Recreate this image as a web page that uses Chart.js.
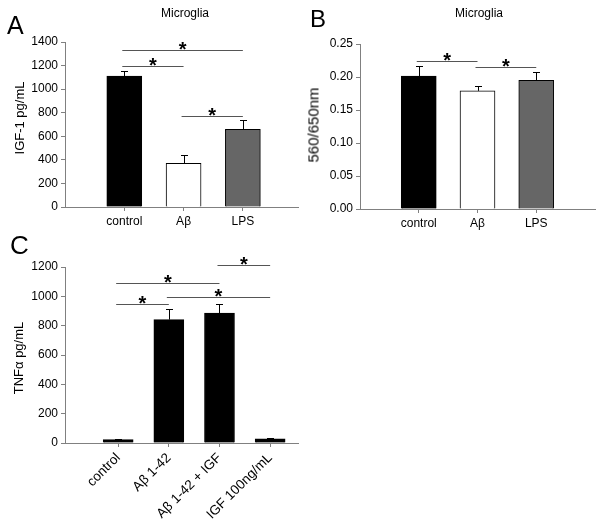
<!DOCTYPE html>
<html>
<head>
<meta charset="utf-8">
<script src="https://cdn.jsdelivr.net/npm/chart.js@4.4.1/dist/chart.umd.min.js"></script>
<style>
  body { margin: 0; background: #fff; font-family: Arial, "Liberation Sans", sans-serif; }
  #wrap { position: relative; width: 601px; height: 519px; overflow: hidden; }
  canvas { position: absolute; }
  .txt { position: absolute; color: #000; white-space: nowrap; line-height: 1; }
  .ytitle { position: absolute; color: #000; white-space: nowrap; line-height: 1; transform: translate(-50%, -50%) rotate(-90deg); }
</style>
</head>
<body>
<div id="wrap">
  <canvas id="chartA" width="300" height="250" style="left:0;top:0"></canvas>
  <canvas id="chartB" width="301" height="250" style="left:300px;top:0"></canvas>
  <canvas id="chartC" width="300" height="269" style="left:0;top:250px"></canvas>

  <div class="txt" style="left:7px;top:13px;font-size:25px">A</div>
  <div class="txt" style="left:310px;top:7px;font-size:24px">B</div>
  <div class="txt" style="left:10px;top:232px;font-size:26px">C</div>

  <div class="txt" style="left:185px;top:7px;font-size:12px;transform:translateX(-50%)">Microglia</div>
  <div class="txt" style="left:479px;top:7px;font-size:12px;transform:translateX(-50%)">Microglia</div>

  <div class="ytitle" style="left:19px;top:118px;font-size:13px">IGF-1 pg/mL</div>
  <div class="ytitle" style="left:313px;top:125px;font-size:15px">560/650nm</div>
  <div class="ytitle" style="left:18px;top:358px;font-size:13px">TNFα pg/mL</div>
</div>

<script>
// panel A / B categories
const cellTypes = ["control", "Aβ", "LPS"];
// A: IGF-1 (pg/mL), mean and upper error
const igf = [1111, 371, 659];
const igfErr = [45, 70, 79];
// B: 560/650nm ratio
const ratio = [0.2015, 0.179, 0.195];
const ratioErr = [0.0145, 0.008, 0.012];
// C: TNF-alpha (pg/mL)
const treatments = ["control", "Aβ 1-42", "Aβ 1-42 + IGF", "IGF 100ng/mL"];
const tnf = [23, 841, 886, 29];
const tnfErr = [6, 73, 64, 8];

// significance brackets: [from category, to category, height]
const sigA = [[1, 3, 1332], [1, 2, 1196], [2, 3, 772]];
const sigB = [[1, 2, 0.2247], [2, 3, 0.215]];
const sigC = [[1, 3, 1091], [1, 2, 948], [2, 4, 995], [3, 4, 1211]];

const FONT = "Arial, 'Liberation Sans', sans-serif";
const AXIS = "#808080";

// error whiskers + significance lines with stars
const extras = {
  id: "extras",
  afterDatasetsDraw(chart, args, opts) {
    const ctx = chart.ctx;
    const x = chart.scales.x, y = chart.scales.y;
    const pts = chart.data.datasets[0].data;
    ctx.save();
    ctx.lineWidth = 1;
    ctx.strokeStyle = "#000";
    opts.err.forEach((e, i) => {
      const px = Math.round(x.getPixelForValue(pts[i].x)) + 0.5;
      const top = y.getPixelForValue(pts[i].y);
      const end = Math.round(y.getPixelForValue(pts[i].y + e)) + 0.5;
      ctx.beginPath();
      ctx.moveTo(px, top);
      ctx.lineTo(px, end);
      ctx.moveTo(px - 3.5, end);
      ctx.lineTo(px + 3.5, end);
      ctx.stroke();
    });
    ctx.strokeStyle = "#555";
    ctx.fillStyle = "#000";
    ctx.font = "bold 20px " + FONT;
    ctx.textAlign = "center";
    ctx.textBaseline = "alphabetic";
    opts.sig.forEach(([a, b, v]) => {
      const x1 = x.getPixelForValue(a) - 2;
      const x2 = x.getPixelForValue(b);
      const py = Math.round(y.getPixelForValue(v)) + 0.5;
      ctx.beginPath();
      ctx.moveTo(x1, py);
      ctx.lineTo(x2, py);
      ctx.stroke();
      ctx.fillText("*", (x1 + x2) / 2, py + 5);
    });
    ctx.restore();
  }
};

function makeChart(id, cats, vals, err, sig, colors, cfg) {
  return new Chart(document.getElementById(id), {
    type: "bar",
    data: {
      datasets: [{
        data: vals.map((v, i) => ({ x: i + 1, y: v })),
        backgroundColor: colors,
        borderColor: "#000",
        borderWidth: 1,
        barThickness: cfg.barW
      }]
    },
    options: {
      responsive: false,
      devicePixelRatio: 1,
      animation: false,
      layout: { padding: cfg.pad },
      plugins: {
        legend: { display: false },
        tooltip: { enabled: false },
        extras: { err: err, sig: sig }
      },
      scales: {
        x: {
          type: "linear",
          offset: false,
          min: cfg.xMin,
          max: cfg.xMax,
          afterBuildTicks: s => { s.ticks = cats.map((c, i) => ({ value: i + 1 })); },
          afterFit: s => { s.height = cfg.xH; },
          ticks: {
            callback: v => cats[v - 1],
            color: "#000",
            font: { family: FONT, size: cfg.xFont },
            padding: 3,
            minRotation: cfg.rot,
            maxRotation: cfg.rot,
            autoSkip: false
          },
          grid: { display: true, offset: false, drawOnChartArea: false, drawTicks: true, tickLength: 4, color: AXIS },
          border: { display: true, color: AXIS }
        },
        y: {
          min: 0,
          max: cfg.yMax,
          afterFit: s => { s.width = cfg.yW; },
          ticks: {
            stepSize: cfg.step,
            color: "#000",
            font: { family: FONT, size: 12 },
            padding: 3,
            callback: v => cfg.fmt(v)
          },
          grid: { display: true, drawOnChartArea: false, drawTicks: true, tickLength: 4, color: AXIS },
          border: { display: true, color: AXIS }
        }
      }
    },
    plugins: [extras]
  });
}

makeChart("chartA", cellTypes, igf, igfErr, sigA, ["#000", "#fff", "#666"], {
  barW: 35, pad: { top: 42, right: 2, left: 0, bottom: 0 },
  xMin: 0, xMax: 3.93, xH: 43, xFont: 12, rot: 0,
  yMax: 1400, step: 200, yW: 65, fmt: v => String(v)
});

makeChart("chartB", cellTypes, ratio, ratioErr, sigB, ["#000", "#fff", "#666"], {
  barW: 35, pad: { top: 44, right: 6, left: 0, bottom: 0 },
  xMin: 0, xMax: 4, xH: 41, xFont: 12, rot: 0,
  yMax: 0.25, step: 0.05, yW: 60, fmt: v => v.toFixed(2)
});

makeChart("chartC", treatments, tnf, tnfErr, sigC, ["#000", "#000", "#000", "#000"], {
  barW: 30, pad: { top: 17, right: 2, left: 0, bottom: 0 },
  xMin: -0.05, xMax: 4.55, xH: 76, xFont: 13.5, rot: 45,
  yMax: 1200, step: 200, yW: 65, fmt: v => String(v)
});
</script>
</body>
</html>
